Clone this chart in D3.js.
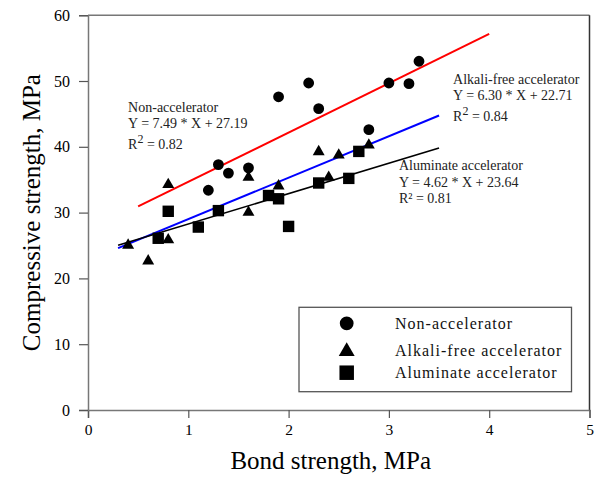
<!DOCTYPE html>
<html lang="en">
<head>
	<meta charset="UTF-8">
	<title>bond vs compressive</title>
	<style>
		body { margin: 0; background: #fff; }
		svg text { font-family: "Liberation Serif", "Times New Roman", serif; }
	</style>
</head>
<body>
	<svg id="cont" width="601" height="480"></svg>
</body>
<script src="https://cdn.jsdelivr.net/npm/d3@7"></script>
<script>
	// bond strength (MPa) / compressive strength (MPa)
	let nonAcc = [[1.2,33.4],[1.3,37.3],[1.4,36.0],[1.6,36.8],[1.9,47.6],[2.2,49.7],[2.3,45.8],[2.8,42.6],[3.0,49.7],[3.2,49.6],[3.3,53.0]]
	let alkaliFree = [[0.4,25.2],[0.6,22.8],[0.8,26.0],[0.8,34.4],[1.6,35.5],[1.6,30.2],[1.9,34.2],[2.3,39.4],[2.4,35.5],[2.5,38.9],[2.8,40.4]]
	let aluminate = [[0.7,26.1],[0.8,30.2],[1.1,27.8],[1.3,30.3],[1.8,32.6],[1.9,32.1],[2.0,27.9],[2.3,34.5],[2.6,35.2],[2.7,39.3]]

	let seriesNames = ["Non-accelerator", "Alkali-free accelerator", "Aluminate accelerator"]
	let slopes = [7.49, 6.30, 4.62]
	let intercepts = [27.19, 22.71, 23.64]
	let fitRanges = [[0.5, 4.0], [0.3, 3.5], [0.3, 3.5]]
	let r2 = ["0.82", "0.84", "0.81"]
	let xTicks = [0, 1, 2, 3, 4, 5]
	let yTicks = [0, 10, 20, 30, 40, 50, 60]

	let svg = d3.select("#cont")
	let x = d3.scaleLinear().domain([0, 5]).range([88, 589.5])
	let y = d3.scaleLinear().domain([0, 60]).range([410, 15.2])
	let axisCol = "#777"

	// frame top/right
	svg.append("line").attr("x1", x(0)).attr("x2", x(5)).attr("y1", y(60)).attr("y2", y(60))
		.attr("stroke", axisCol).attr("stroke-width", 1.5)
	svg.append("line").attr("x1", x(5)).attr("x2", x(5)).attr("y1", y(60)).attr("y2", y(0))
		.attr("stroke", "#333").attr("stroke-width", 1.5)

	let xaxis = d3.axisBottom(x).tickValues(xTicks).tickSize(8).tickPadding(6).tickFormat(d3.format("d"))
	let gx = svg.append("g").attr("transform", `translate(0,${y(0)})`).call(xaxis)
	let yaxis = d3.axisLeft(y).tickValues(yTicks).tickSize(9).tickPadding(9).tickFormat(d3.format("d"))
	let gy = svg.append("g").attr("transform", `translate(${x(0)},0)`).call(yaxis)
	;[gx, gy].forEach(g => {
		g.attr("font-family", '"Liberation Serif", serif').attr("font-size", 16)
		g.select(".domain").attr("stroke", axisCol).attr("stroke-width", 1.5)
		g.selectAll(".tick line").attr("stroke", "#555").attr("stroke-width", 1.2)
		g.selectAll(".tick text").attr("fill", "#000")
	})
	gx.attr("font-size", 15.5)

	// axis titles
	svg.append("text").attr("x", (x(0) + x(5)) / 2 - 8).attr("y", 469).attr("text-anchor", "middle")
		.style("font-size", "25px").text("Bond strength, MPa")
	svg.append("text").attr("transform", `translate(40,${(y(0) + y(60)) / 2}) rotate(-90)`)
		.attr("text-anchor", "middle").style("font-size", "25px").text("Compressive strength, MPa")

	// fit lines
	let fitCols = ["#ff0000", "#0000ff", "#000000"]
	let fitW = [2, 2, 1.6]
	slopes.forEach((s, i) => {
		let r = fitRanges[i]
		svg.append("line")
			.attr("x1", x(r[0])).attr("y1", y(s * r[0] + intercepts[i]))
			.attr("x2", x(r[1])).attr("y2", y(s * r[1] + intercepts[i]))
			.attr("stroke", fitCols[i]).attr("stroke-width", fitW[i])
	})

	// markers
	let shapes = [d3.symbolCircle, d3.symbolTriangle, d3.symbolSquare]
	let sizes = [92, 62, 130]
	;[nonAcc, alkaliFree, aluminate].forEach((set, i) => {
		svg.append("g").selectAll("path").data(set).enter().append("path")
			.attr("d", d3.symbol().type(shapes[i]).size(sizes[i]))
			.attr("transform", d => `translate(${x(d[0])},${y(d[1]) + (i == 1 ? 1 : 0)})`)
			.attr("fill", "#000")
	})

	// equations
	let labelPos = [[0.40, 45.3], [3.64, 49.5], [3.10, 36.5]]
	let lineGaps = [[0, 16.3, 37.3], [0, 16, 36.7], [0, 16.7, 32.7]]
	slopes.forEach((s, i) => {
		let g = svg.append("g").attr("fill", "#222").style("font-size", "14px")
		let lx = x(labelPos[i][0]), ly = y(labelPos[i][1])
		g.append("text").attr("x", lx).attr("y", ly + lineGaps[i][0]).text(seriesNames[i])
		g.append("text").attr("x", lx).attr("y", ly + lineGaps[i][1])
			.text(`Y = ${s.toFixed(2)} * X + ${intercepts[i].toFixed(2)}`)
		let t = g.append("text").attr("x", lx).attr("y", ly + lineGaps[i][2])
		if (i < 2) {
			t.append("tspan").text("R")
			t.append("tspan").attr("dy", -6).style("font-size", "12px").text("2")
			t.append("tspan").attr("dy", 6).text(" = " + r2[i])
		} else {
			t.text("R\u00b2 = " + r2[i])
		}
	})

	// legend
	let leg = svg.append("g")
	leg.append("rect").attr("x", 299).attr("y", 307.3).attr("width", 272.5).attr("height", 84.4)
		.attr("fill", "#fff").attr("stroke", "#555").attr("stroke-width", 1.3)
	let legY = [323.3, 350, 372.7]
	let legSizes = [150, 110, 210]
	seriesNames.forEach((n, i) => {
		leg.append("path").attr("d", d3.symbol().type(shapes[i]).size(legSizes[i]))
			.attr("transform", `translate(346.7,${legY[i] + (i == 1 ? 1.5 : 0)})`).attr("fill", "#000")
		leg.append("text").attr("x", 395).attr("y", legY[i] + 5.5).style("font-size", "16px")
			.style("letter-spacing", "1px").attr("fill", "#111").text(n)
	})
</script>
</html>
